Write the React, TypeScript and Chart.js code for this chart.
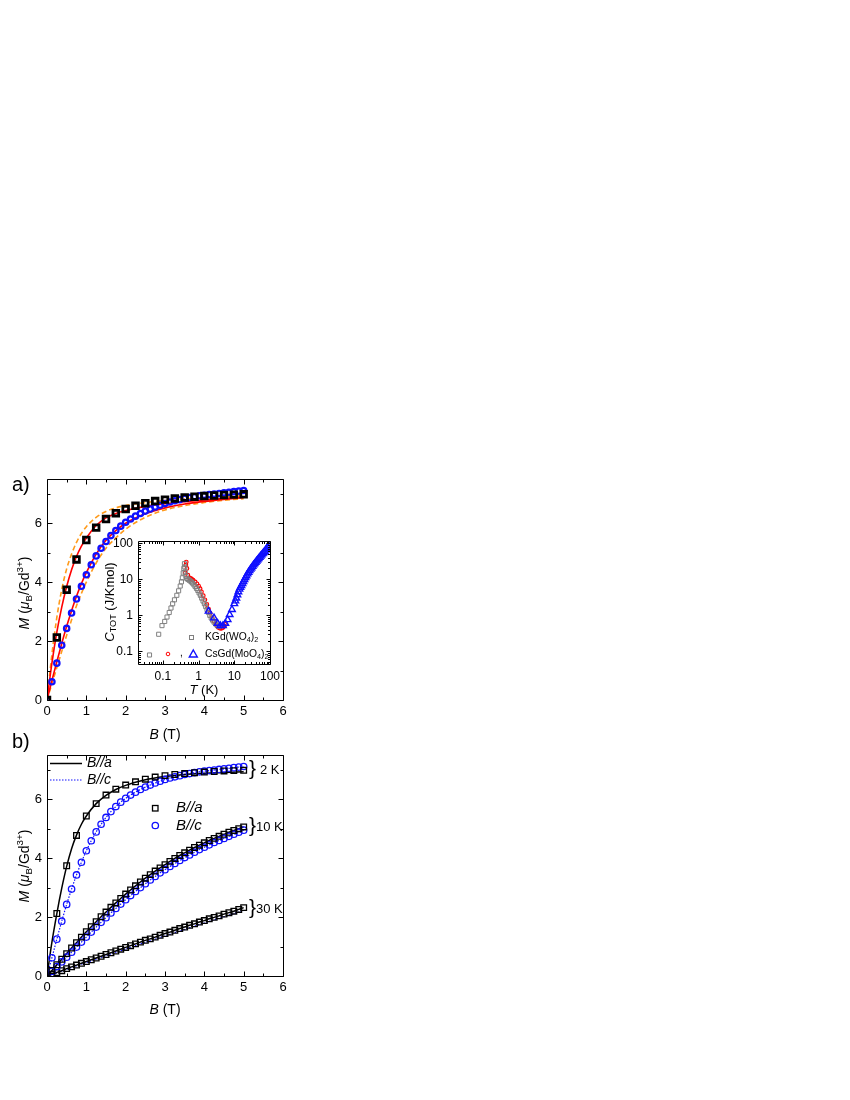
import React, { useEffect, useRef } from 'react';
import { Chart, registerables } from 'chart.js';
Chart.register(...registerables);

const FONT = '"Liberation Sans", Arial, sans-serif';

// ---------- axis ticks ----------
const PANEL_X_TICKS = [0, 1, 2, 3, 4, 5, 6];
const PANEL_X_MINOR = [0.5, 1.5, 2.5, 3.5, 4.5, 5.5];
const PANEL_Y_TICKS = [0, 2, 4, 6];
const PANEL_Y_MINOR = [1, 3, 5, 7];
const INSET_X_TICKS = [0.1, 1, 10, 100];
const INSET_Y_TICKS = [0.1, 1, 10, 100];

// ---------- 2 K data (B//a squares, B//c circles) ----------
const B_SQ = [0, 0.25, 0.5, 0.75, 1, 1.25, 1.5, 1.75, 2, 2.25, 2.5, 2.75, 3, 3.25, 3.5, 3.75, 4, 4.25, 4.5, 4.75, 5];
const M_SQ_2K = [0, 2.12, 3.74, 4.77, 5.43, 5.85, 6.14, 6.34, 6.48, 6.59, 6.68, 6.75, 6.8, 6.84, 6.87, 6.9, 6.92, 6.94, 6.96, 6.97, 6.98];
const B_FINE = [0, 0.125, 0.25, 0.375, 0.5, 0.625, 0.75, 0.875, 1, 1.125, 1.25, 1.375, 1.5, 1.625, 1.75, 1.875, 2, 2.125, 2.25, 2.375, 2.5, 2.625, 2.75, 2.875, 3, 3.125, 3.25, 3.375, 3.5, 3.625, 3.75, 3.875, 4, 4.125, 4.25, 4.375, 4.5, 4.625, 4.75, 4.875, 5];
const M_CI_2K = [0, 0.62, 1.25, 1.86, 2.43, 2.95, 3.43, 3.86, 4.25, 4.59, 4.89, 5.15, 5.38, 5.58, 5.75, 5.9, 6.03, 6.14, 6.24, 6.33, 6.41, 6.48, 6.55, 6.61, 6.67, 6.72, 6.76, 6.8, 6.84, 6.87, 6.9, 6.93, 6.95, 6.97, 6.99, 7.01, 7.03, 7.05, 7.07, 7.09, 7.11];

// ---------- 10 K and 30 K data ----------
const M_SQ_10K = [0, 0.19, 0.38, 0.57, 0.76, 0.95, 1.13, 1.32, 1.5, 1.67, 1.84, 2.01, 2.17, 2.33, 2.48, 2.63, 2.78, 2.92, 3.06, 3.19, 3.32, 3.44, 3.56, 3.67, 3.78, 3.89, 3.99, 4.09, 4.18, 4.27, 4.36, 4.44, 4.52, 4.6, 4.67, 4.74, 4.81, 4.88, 4.94, 5.0, 5.06];
const M_CI_10K = [0, 0.16, 0.32, 0.48, 0.64, 0.81, 0.98, 1.15, 1.32, 1.49, 1.66, 1.82, 1.98, 2.14, 2.29, 2.44, 2.59, 2.73, 2.87, 3.0, 3.13, 3.26, 3.38, 3.5, 3.61, 3.72, 3.82, 3.92, 4.02, 4.11, 4.2, 4.29, 4.37, 4.45, 4.53, 4.6, 4.67, 4.74, 4.81, 4.88, 4.95];
const M_SQ_30K = [0, 0.06, 0.12, 0.18, 0.25, 0.31, 0.37, 0.43, 0.49, 0.55, 0.61, 0.67, 0.73, 0.79, 0.85, 0.91, 0.97, 1.03, 1.09, 1.15, 1.21, 1.26, 1.32, 1.38, 1.44, 1.49, 1.55, 1.61, 1.66, 1.72, 1.77, 1.83, 1.88, 1.94, 1.99, 2.04, 2.1, 2.15, 2.2, 2.26, 2.32];
const B_30K_LINE = [0, 1, 2, 3, 4, 5];
const M_30K_C_LINE = [0, 0.46, 0.92, 1.36, 1.8, 2.22];

// ---------- fit curves ----------
const B_FIT = [0, 0.125, 0.25, 0.375, 0.5, 0.625, 0.75, 0.875, 1, 1.25, 1.5, 1.75, 2, 2.5, 3, 3.5, 4, 4.5, 5];
const FIT_RED_A = [0, 1.25, 2.3, 3.15, 3.85, 4.42, 4.87, 5.22, 5.5, 5.92, 6.18, 6.33, 6.43, 6.57, 6.66, 6.73, 6.79, 6.84, 6.88];
const FIT_RED_C = [0, 0.66, 1.3, 1.92, 2.5, 3.03, 3.52, 3.95, 4.32, 4.95, 5.42, 5.75, 6.0, 6.32, 6.52, 6.65, 6.74, 6.81, 6.87];
const DASH_UP = [0, 1.55, 2.8, 3.75, 4.45, 4.95, 5.35, 5.65, 5.88, 6.2, 6.4, 6.52, 6.6, 6.7, 6.77, 6.82, 6.87, 6.9, 6.93];
const DASH_LO = [0, 0.55, 1.1, 1.65, 2.2, 2.72, 3.2, 3.62, 4.0, 4.65, 5.15, 5.5, 5.8, 6.2, 6.45, 6.6, 6.7, 6.78, 6.83];
const FIT_2K_BLACK = [0, 1.15, 2.12, 2.98, 3.72, 4.32, 4.78, 5.15, 5.43, 5.85, 6.13, 6.33, 6.47, 6.66, 6.77, 6.84, 6.88, 6.91, 6.93];

// ---------- inset: heat capacity ----------
const T_KGD = [0.042, 0.076, 0.094, 0.112, 0.13, 0.15, 0.168, 0.187, 0.21, 0.245, 0.275, 0.305, 0.33, 0.35, 0.37, 0.385, 0.4, 0.41, 0.42, 0.44, 0.47, 0.5, 0.54, 0.58, 0.63, 0.68, 0.74, 0.8, 0.87, 0.95, 1.03, 1.12, 1.22, 1.33, 1.45, 1.58, 1.72, 1.88, 2.05, 2.25, 2.45, 2.7, 3.0, 3.3, 3.7, 4.1];
const C_KGD = [0.08, 0.3, 0.52, 0.68, 0.9, 1.2, 1.6, 2.1, 2.7, 3.6, 4.8, 6.5, 8.5, 11, 15, 20, 27, 22, 16, 12, 10.5, 10, 9.5, 9.0, 8.4, 7.8, 7.0, 6.3, 5.6, 4.9, 4.2, 3.6, 3.0, 2.5, 2.1, 1.75, 1.45, 1.2, 1.0, 0.85, 0.74, 0.65, 0.58, 0.53, 0.5, 0.52];
const T_CS_RED = [0.42, 0.44, 0.45, 0.47, 0.5, 0.55, 0.6, 0.65, 0.7, 0.8, 0.9, 1.0, 1.1, 1.2, 1.35, 1.5, 1.7, 1.9, 2.1, 2.4, 2.7, 3.0, 3.3, 3.6, 4.0, 4.4, 4.8, 5.2, 5.6];
const C_CS_RED = [15, 25, 30, 20, 13, 11, 10.5, 10, 9.5, 8.5, 7.5, 6.5, 5.5, 4.5, 3.5, 2.7, 2.0, 1.5, 1.15, 0.85, 0.68, 0.57, 0.5, 0.46, 0.44, 0.44, 0.46, 0.5, 0.56];
const T_CS_BLUE = [1.9, 2.7, 3.4, 4.05, 4.8, 5.6, 6.5, 7.4, 8.6, 10, 10.7, 11.4, 12.2, 13, 13.9, 14.8, 15.8, 16.9, 18, 19.2, 20.5, 21.9, 23.4, 25, 26.7, 28.5, 30.4, 32.5, 34.7, 37, 39.5, 42.2, 45, 48, 51.3, 54.8, 58.5, 62.5, 66.7, 71.2, 76, 81.2, 86.7, 92.5, 100];
const C_CS_BLUE = [1.3, 0.85, 0.6, 0.52, 0.52, 0.6, 0.76, 1.05, 1.45, 2.1, 2.5, 3.0, 3.7, 4.5, 5.3, 6.0, 6.7, 7.6, 8.6, 9.8, 11.1, 12.5, 14, 15.6, 17.3, 19, 20.8, 22.8, 25, 27, 29.5, 32, 34.5, 37.5, 40.5, 44, 47.5, 51, 55, 59.5, 65, 71, 78, 86, 98];

type Seg = { t: string; i?: boolean; sub?: boolean; sup?: boolean };

function fontStr(size: number, italic?: boolean) {
  return `${italic ? 'italic ' : ''}${size}px ${FONT}`;
}

function drawRich(ctx: CanvasRenderingContext2D, segs: Seg[], x: number, y: number, size: number, rot = 0, align: 'center' | 'left' = 'center') {
  ctx.save();
  ctx.translate(x, y);
  ctx.rotate(rot);
  ctx.textBaseline = 'middle';
  ctx.textAlign = 'left';
  ctx.fillStyle = '#000';
  const sizes = segs.map((s) => (s.sub || s.sup ? size * 0.7 : size));
  const widths = segs.map((s, k) => {
    ctx.font = fontStr(sizes[k], s.i);
    return ctx.measureText(s.t).width;
  });
  const total = widths.reduce((a, b) => a + b, 0);
  let cx = align === 'center' ? -total / 2 : 0;
  segs.forEach((s, k) => {
    ctx.font = fontStr(sizes[k], s.i);
    const dy = s.sub ? size * 0.3 : s.sup ? -size * 0.35 : 0;
    ctx.fillText(s.t, cx, dy);
    cx += widths[k];
  });
  ctx.restore();
}

function pts(xs: number[], ys: number[]) {
  return xs.map((x, i) => ({ x, y: ys[i] }));
}

function logMinors(min: number, max: number) {
  const out: number[] = [];
  for (let d = 0.001; d <= max; d *= 10) {
    for (let k = 2; k <= 9; k++) {
      const v = +(k * d).toPrecision(3);
      if (v > min && v < max) out.push(v);
    }
  }
  return out;
}

function frameTicksPlugin(xMajor: number[], xMinor: number[], yMajor: number[], yMinor: number[], majLen: number, minLen: number) {
  return {
    id: 'frameTicks',
    afterDatasetsDraw(chart: any) {
      const { ctx, chartArea: a, scales } = chart;
      ctx.save();
      ctx.strokeStyle = '#000';
      ctx.lineWidth = 1;
      ctx.beginPath();
      const L = Math.round(a.left) + 0.5, R = Math.round(a.right) + 0.5, T = Math.round(a.top) + 0.5, Bt = Math.round(a.bottom) + 0.5;
      ctx.rect(L, T, R - L, Bt - T);
      const xt = (v: number, len: number) => {
        const px = Math.round(scales.x.getPixelForValue(v)) + 0.5;
        ctx.moveTo(px, Bt); ctx.lineTo(px, Bt - len);
        ctx.moveTo(px, T); ctx.lineTo(px, T + len);
      };
      const yt = (v: number, len: number) => {
        const py = Math.round(scales.y.getPixelForValue(v)) + 0.5;
        ctx.moveTo(L, py); ctx.lineTo(L + len, py);
        ctx.moveTo(R, py); ctx.lineTo(R - len, py);
      };
      xMajor.forEach((v) => xt(v, majLen));
      xMinor.forEach((v) => xt(v, minLen));
      yMajor.forEach((v) => yt(v, majLen));
      yMinor.forEach((v) => yt(v, minLen));
      ctx.stroke();
      ctx.restore();
    },
  };
}

function makeOptions(opts: {
  xType: string; yType: string; xMin: number; xMax: number; yMin: number; yMax: number;
  xTicks: number[]; yTicks: number[]; padding: any; yWidth: number; xHeight: number; tickSize: number; xPad: number; yPad: number;
}) {
  const tickFont = { family: FONT, size: opts.tickSize };
  return {
    animation: false,
    responsive: false,
    maintainAspectRatio: false,
    events: [],
    layout: { padding: opts.padding },
    plugins: { legend: { display: false }, tooltip: { enabled: false }, title: { display: false } },
    scales: {
      x: {
        type: opts.xType,
        min: opts.xMin,
        max: opts.xMax,
        afterFit: (s: any) => { s.height = opts.xHeight; },
        afterBuildTicks: (s: any) => { s.ticks = opts.xTicks.map((v) => ({ value: v })); },
        grid: { display: false, drawTicks: false },
        border: { display: false },
        ticks: { font: tickFont, color: '#000', padding: opts.xPad, maxRotation: 0, autoSkip: false, callback: (v: any) => String(v) },
      },
      y: {
        type: opts.yType,
        min: opts.yMin,
        max: opts.yMax,
        afterFit: (s: any) => { s.width = opts.yWidth; },
        afterBuildTicks: (s: any) => { s.ticks = opts.yTicks.map((v) => ({ value: v })); },
        grid: { display: false, drawTicks: false },
        border: { display: false },
        ticks: { font: tickFont, color: '#000', padding: opts.yPad, autoSkip: false, callback: (v: any) => String(v) },
      },
    },
  };
}

const BLUE = '#1010ff';
const RED = '#ff0000';
const ORANGE = '#ff9a1a';
const GRAY = '#808080';

const lineDs = (data: any[], color: string, width: number, dash: number[] = []) => ({
  data, showLine: true, borderColor: color, borderWidth: width, borderDash: dash, pointRadius: 0,
  cubicInterpolationMode: 'monotone', fill: false,
});

const MY_TITLE: Seg[] = [{ t: 'M', i: true }, { t: ' (' }, { t: 'μ', i: true }, { t: 'B', sub: true }, { t: '/Gd' }, { t: '3+', sup: true }, { t: ')' }];
const BX_TITLE: Seg[] = [{ t: 'B', i: true }, { t: ' (T)' }];

function PanelA() {
  const ref = useRef<HTMLCanvasElement>(null);
  useEffect(() => {
    const textPlugin = {
      id: 'textA',
      afterDraw(chart: any) {
        const ctx = chart.ctx;
        drawRich(ctx, [{ t: 'a)' }], 12, 25, 20, 0, 'left');
        drawRich(ctx, MY_TITLE, 25, 133, 14, -Math.PI / 2);
        drawRich(ctx, BX_TITLE, 165, 275, 14);
      },
    };
    const chart = new Chart(ref.current as HTMLCanvasElement, {
      type: 'scatter',
      data: {
        datasets: [
          { data: pts(B_SQ, M_SQ_2K), pointStyle: 'rect', pointRadius: 4.0, borderColor: '#000', borderWidth: 2.8, backgroundColor: 'rgba(0,0,0,0)' },
          { data: pts(B_FINE, M_CI_2K), pointStyle: 'circle', pointRadius: 2.7, borderColor: BLUE, borderWidth: 2.2, backgroundColor: 'rgba(0,0,0,0)' },
          lineDs(pts(B_FIT, FIT_RED_A), RED, 1.6),
          lineDs(pts(B_FIT, FIT_RED_C), RED, 1.6),
          lineDs(pts(B_FIT, DASH_UP), ORANGE, 1.6, [5, 3]),
          lineDs(pts(B_FIT, DASH_LO), ORANGE, 1.6, [5, 3]),
        ] as any,
      },
      options: makeOptions({
        xType: 'linear', yType: 'linear', xMin: 0, xMax: 6, yMin: 0, yMax: 7.5,
        xTicks: PANEL_X_TICKS, yTicks: PANEL_Y_TICKS,
        padding: { left: 0, top: 19, right: 17, bottom: 0 }, yWidth: 47, xHeight: 50, tickSize: 13, xPad: 4, yPad: 5,
      }) as any,
      plugins: [frameTicksPlugin(PANEL_X_TICKS, PANEL_X_MINOR, PANEL_Y_TICKS, PANEL_Y_MINOR, 5, 3), textPlugin],
    });
    return () => chart.destroy();
  }, []);
  return <canvas ref={ref} width={300} height={290} style={{ position: 'absolute', left: 0, top: 460, width: 300, height: 290 }} />;
}

function Inset() {
  const ref = useRef<HTMLCanvasElement>(null);
  useEffect(() => {
    const textPlugin = {
      id: 'textInset',
      afterDraw(chart: any) {
        const ctx = chart.ctx;
        drawRich(ctx, [{ t: 'C', i: true }, { t: 'TOT', sub: true }, { t: ' (J/Kmol)' }], 20, 74, 13, -Math.PI / 2);
        drawRich(ctx, [{ t: 'T', i: true }, { t: ' (K)' }], 114, 162, 13);
        // legend
        ctx.save();
        ctx.lineWidth = 1;
        ctx.strokeStyle = GRAY;
        ctx.strokeRect(99.5, 107.5, 4, 4);
        ctx.strokeStyle = RED;
        ctx.beginPath(); ctx.arc(78, 126, 1.8, 0, Math.PI * 2); ctx.stroke();
        ctx.strokeStyle = BLUE;
        ctx.lineWidth = 1.4;
        ctx.beginPath(); ctx.moveTo(103.3, 122); ctx.lineTo(107.3, 129); ctx.lineTo(99.3, 129); ctx.closePath(); ctx.stroke();
        ctx.restore();
        drawRich(ctx, [{ t: ',' }], 90, 125, 10, 0, 'left');
        drawRich(ctx, [{ t: 'KGd(WO' }, { t: '4', sub: true }, { t: ')' }, { t: '2', sub: true }], 115, 109, 10.3, 0, 'left');
        drawRich(ctx, [{ t: 'CsGd(MoO' }, { t: '4', sub: true }, { t: ')' }, { t: '2', sub: true }], 115, 126, 10.3, 0, 'left');
      },
    };
    const chart = new Chart(ref.current as HTMLCanvasElement, {
      type: 'scatter',
      data: {
        datasets: [
          { data: pts(T_CS_BLUE, C_CS_BLUE), pointStyle: 'triangle', pointRadius: 3.8, borderColor: BLUE, borderWidth: 1.4, backgroundColor: 'rgba(0,0,0,0)' },
          { data: pts(T_KGD, C_KGD), pointStyle: 'rect', pointRadius: 2.9, borderColor: GRAY, borderWidth: 1, backgroundColor: 'rgba(0,0,0,0)' },
          { data: pts(T_CS_RED, C_CS_RED), pointStyle: 'circle', pointRadius: 1.8, borderColor: RED, borderWidth: 1.2, backgroundColor: 'rgba(0,0,0,0)' },
        ] as any,
      },
      options: makeOptions({
        xType: 'logarithmic', yType: 'logarithmic', xMin: 0.02, xMax: 100, yMin: 0.045, yMax: 115,
        xTicks: INSET_X_TICKS, yTicks: INSET_Y_TICKS,
        padding: { left: 0, top: 13, right: 20, bottom: 0 }, yWidth: 48, xHeight: 39, tickSize: 12, xPad: 5, yPad: 5,
      }) as any,
      plugins: [frameTicksPlugin(INSET_X_TICKS, logMinors(0.02, 100), INSET_Y_TICKS, logMinors(0.045, 115), 4, 2.5), textPlugin],
    });
    return () => chart.destroy();
  }, []);
  return <canvas ref={ref} width={200} height={175} style={{ position: 'absolute', left: 90, top: 528, width: 200, height: 175 }} />;
}

function PanelB() {
  const ref = useRef<HTMLCanvasElement>(null);
  useEffect(() => {
    const textPlugin = {
      id: 'textB',
      afterDraw(chart: any) {
        const ctx = chart.ctx;
        drawRich(ctx, [{ t: 'b)' }], 12, 17, 20, 0, 'left');
        drawRich(ctx, MY_TITLE, 25, 141, 14, -Math.PI / 2);
        drawRich(ctx, BX_TITLE, 165, 285, 14);
        // legend (lines)
        ctx.save();
        ctx.strokeStyle = '#000'; ctx.lineWidth = 1.5;
        ctx.beginPath(); ctx.moveTo(50, 38.5); ctx.lineTo(82, 38.5); ctx.stroke();
        ctx.strokeStyle = BLUE; ctx.lineWidth = 1.2; ctx.setLineDash([1.5, 1.5]);
        ctx.beginPath(); ctx.moveTo(50, 55); ctx.lineTo(82, 55); ctx.stroke();
        ctx.setLineDash([]);
        // legend (symbols)
        ctx.strokeStyle = '#000'; ctx.lineWidth = 1.3;
        ctx.strokeRect(152.5, 80.5, 5.5, 5.5);
        ctx.strokeStyle = BLUE;
        ctx.beginPath(); ctx.arc(155.3, 100.5, 3.2, 0, Math.PI * 2); ctx.stroke();
        ctx.restore();
        const BA: Seg[] = [{ t: 'B//a', i: true }];
        const BC: Seg[] = [{ t: 'B//c', i: true }];
        drawRich(ctx, BA, 87, 38.5, 14, 0, 'left');
        drawRich(ctx, BC, 87, 55, 14, 0, 'left');
        drawRich(ctx, BA, 176, 83, 15, 0, 'left');
        drawRich(ctx, BC, 176, 101, 15, 0, 'left');
        // temperature braces
        drawRich(ctx, [{ t: '}' }], 249, 44, 21, 0, 'left');
        drawRich(ctx, [{ t: '2 K' }], 260, 45, 13, 0, 'left');
        drawRich(ctx, [{ t: '}' }], 249, 101, 21, 0, 'left');
        drawRich(ctx, [{ t: '10 K' }], 256, 102, 13, 0, 'left');
        drawRich(ctx, [{ t: '}' }], 249, 183, 21, 0, 'left');
        drawRich(ctx, [{ t: '30 K' }], 256, 184, 13, 0, 'left');
      },
    };
    const sq = (ys: number[], xs: number[]) => ({ data: pts(xs, ys), pointStyle: 'rect', pointRadius: 4.0, borderColor: '#000', borderWidth: 1.3, backgroundColor: 'rgba(0,0,0,0)' });
    const ci = (ys: number[]) => ({ data: pts(B_FINE, ys), pointStyle: 'circle', pointRadius: 3.2, borderColor: BLUE, borderWidth: 1.3, backgroundColor: 'rgba(0,0,0,0)' });
    const chart = new Chart(ref.current as HTMLCanvasElement, {
      type: 'scatter',
      data: {
        datasets: [
          sq(M_SQ_2K, B_SQ),
          ci(M_CI_2K),
          sq(M_SQ_10K, B_FINE),
          ci(M_CI_10K),
          sq(M_SQ_30K, B_FINE),
          lineDs(pts(B_FIT, FIT_2K_BLACK), '#000', 1.5),
          lineDs(pts(B_FINE, M_CI_2K), BLUE, 1.2, [1.5, 1.5]),
          lineDs(pts(B_FINE, M_SQ_10K), '#000', 1.5),
          lineDs(pts(B_FINE, M_CI_10K), BLUE, 1.2, [1.5, 1.5]),
          lineDs(pts(B_FINE, M_SQ_30K), '#000', 1.5),
          lineDs(pts(B_30K_LINE, M_30K_C_LINE), BLUE, 1.2, [1.5, 1.5]),
        ] as any,
      },
      options: makeOptions({
        xType: 'linear', yType: 'linear', xMin: 0, xMax: 6, yMin: 0, yMax: 7.5,
        xTicks: PANEL_X_TICKS, yTicks: PANEL_Y_TICKS,
        padding: { left: 0, top: 30, right: 17, bottom: 0 }, yWidth: 47, xHeight: 49, tickSize: 13, xPad: 4, yPad: 5,
      }) as any,
      plugins: [frameTicksPlugin(PANEL_X_TICKS, PANEL_X_MINOR, PANEL_Y_TICKS, PANEL_Y_MINOR, 5, 3), textPlugin],
    });
    return () => chart.destroy();
  }, []);
  return <canvas ref={ref} width={300} height={300} style={{ position: 'absolute', left: 0, top: 725, width: 300, height: 300 }} />;
}

export default function App() {
  return (
    <div style={{ position: 'absolute', left: 0, top: 0, width: 850, height: 1100, background: '#fff' }}>
      <PanelA />
      <PanelB />
      <Inset />
    </div>
  );
}
